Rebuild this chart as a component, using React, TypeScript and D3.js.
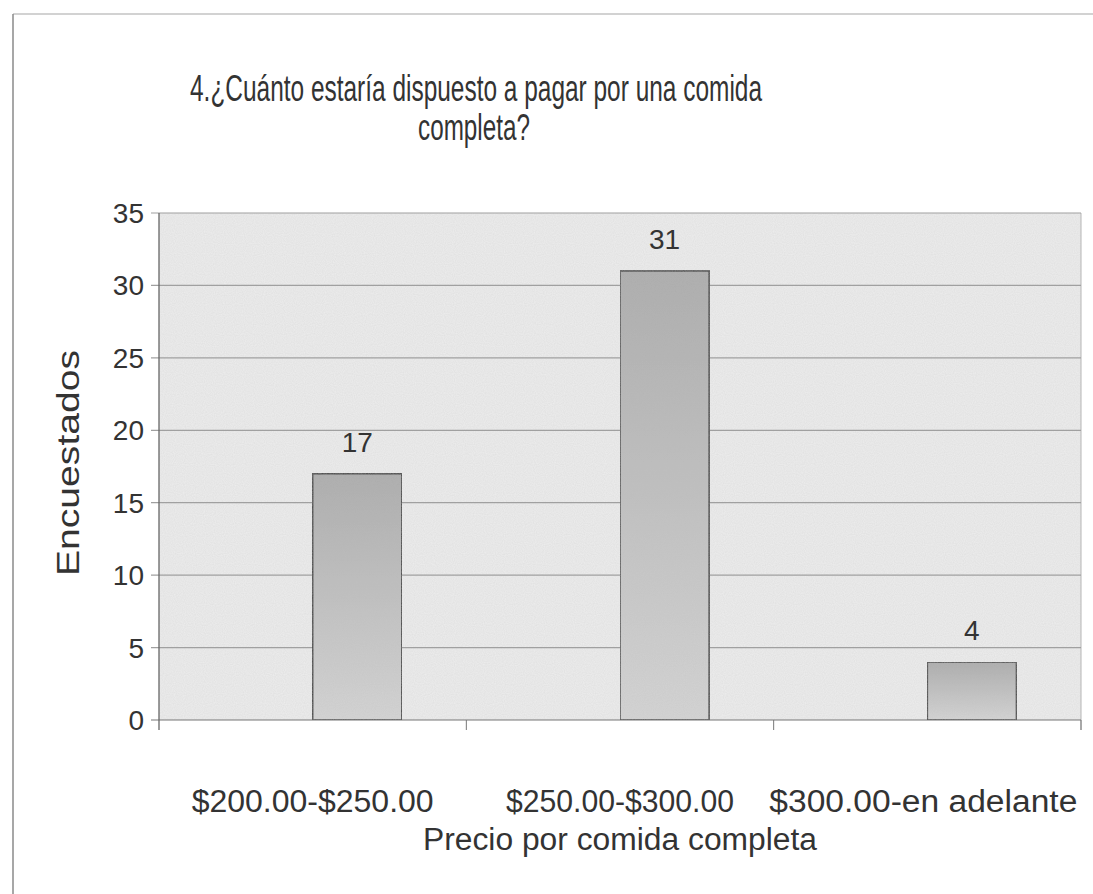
import React from "react";
import * as d3 from "d3";

const categories = ["$200.00-$250.00", "$250.00-$300.00", "$300.00-en adelante"];
const values = [17, 31, 4];
const yTicks = [0, 5, 10, 15, 20, 25, 30, 35];
const titleLines = ["4.¿Cuánto estaría dispuesto a pagar por una comida", "completa?"];
const xTitle = "Precio por comida completa";
const yTitle = "Encuestados";

const W = 1093;
const H = 894;
const plot = { left: 159, right: 1081, top: 213, bottom: 720 };
const FONT = "'Liberation Sans', Arial, sans-serif";
const TXT = "#333333";

export default function App() {
  const x = d3.scaleBand<string>().domain(categories).range([plot.left, plot.right]);
  const y = d3.scaleLinear().domain([0, 35]).range([plot.bottom, plot.top]);
  const barW = x.bandwidth() * 0.29;
  const catWidths = [242, 228, 308];

  return (
    <svg width={W} height={H} style={{ position: "absolute", left: 0, top: 0, background: "#fff" }}>
      <defs>
        <linearGradient id="barGrad" x1="0" y1="0" x2="0" y2="1">
          <stop offset="0%" stopColor="#acacac" />
          <stop offset="100%" stopColor="#d4d4d4" />
        </linearGradient>
        <filter id="speck" x="0" y="0" width="100%" height="100%">
          <feTurbulence type="fractalNoise" baseFrequency="0.9" numOctaves="1" seed="3" result="n" />
          <feColorMatrix type="matrix" values="0 0 0 0 0.5  0 0 0 0 0.5  0 0 0 0 0.5  0 0 0 0.35 -0.05" result="g" />
          <feComposite in="g" in2="SourceGraphic" operator="in" result="m" />
          <feMerge>
            <feMergeNode in="SourceGraphic" />
            <feMergeNode in="m" />
          </feMerge>
        </filter>
      </defs>
      <rect x={0} y={0} width={W} height={H} fill="#ffffff" />
      {/* chart area border */}
      <line x1={13} y1={14} x2={W} y2={14} stroke="#a5a5a5" strokeWidth={1} />
      <line x1={13} y1={14} x2={13} y2={H} stroke="#8a8a8a" strokeWidth={1.5} />

      {/* title */}
      <text x={476} y={101} textAnchor="middle" fontFamily={FONT} fontSize={36} fill={TXT}
        textLength={572} lengthAdjust="spacingAndGlyphs">{titleLines[0]}</text>
      <text x={474} y={140} textAnchor="middle" fontFamily={FONT} fontSize={36} fill={TXT}
        textLength={112} lengthAdjust="spacingAndGlyphs">{titleLines[1]}</text>

      {/* plot area */}
      <rect x={plot.left} y={plot.top} width={plot.right - plot.left} height={plot.bottom - plot.top}
        fill="#ececec" filter="url(#speck)" />
      <line x1={plot.right} y1={plot.top} x2={plot.right} y2={plot.bottom + 10} stroke="#b5b5b5" strokeWidth={1} />

      {/* gridlines */}
      {yTicks.map((t) => (
        <line key={"g" + t} x1={plot.left - 8} x2={plot.right} y1={y(t)} y2={y(t)}
          stroke={t === 0 ? "#777" : "#a0a0a0"} strokeWidth={1.2} />
      ))}

      {/* y axis */}
      <line x1={plot.left} x2={plot.left} y1={plot.top} y2={plot.bottom + 10} stroke="#666" strokeWidth={1.3} />
      {yTicks.map((t) => (
        <text key={"yt" + t} x={144} y={y(t) + 10} textAnchor="end" fontFamily={FONT} fontSize={28} fill={TXT}>
          {t}
        </text>
      ))}

      {/* x ticks at category boundaries */}
      {categories.map((c, i) => (
        <line key={"xt" + i} x1={(x(c) as number) + x.bandwidth()} x2={(x(c) as number) + x.bandwidth()}
          y1={plot.bottom} y2={plot.bottom + 10} stroke="#777" strokeWidth={1} />
      ))}

      {/* bars */}
      {categories.map((c, i) => {
        const bx = (x(c) as number) + x.bandwidth() / 2;
        return (
          <g key={"b" + i}>
            <rect x={bx} y={y(values[i])} width={barW} height={y(0) - y(values[i])}
              fill="url(#barGrad)" stroke="#4a4a4a" strokeWidth={1.6} filter="url(#speck)" />
            <text x={bx + barW / 2} y={y(values[i]) - 22} textAnchor="middle" fontFamily={FONT}
              fontSize={28} fill={TXT}>{values[i]}</text>
          </g>
        );
      })}

      {/* category labels */}
      {categories.map((c, i) => (
        <text key={"cl" + i} x={(x(c) as number) + x.bandwidth() / 2 + (i === 2 ? -4 : 0)} y={812}
          textAnchor="middle" fontFamily={FONT} fontSize={31} fill={TXT}
          textLength={catWidths[i]} lengthAdjust="spacingAndGlyphs">{c}</text>
      ))}

      {/* axis titles */}
      <text x={(plot.left + plot.right) / 2} y={850} textAnchor="middle" fontFamily={FONT} fontSize={31}
        fill={TXT} textLength={394} lengthAdjust="spacingAndGlyphs">{xTitle}</text>
      <text transform={`translate(79, 463) rotate(-90)`} textAnchor="middle" fontFamily={FONT}
        fontSize={31} fill={TXT} textLength={226} lengthAdjust="spacingAndGlyphs">{yTitle}</text>
    </svg>
  );
}
